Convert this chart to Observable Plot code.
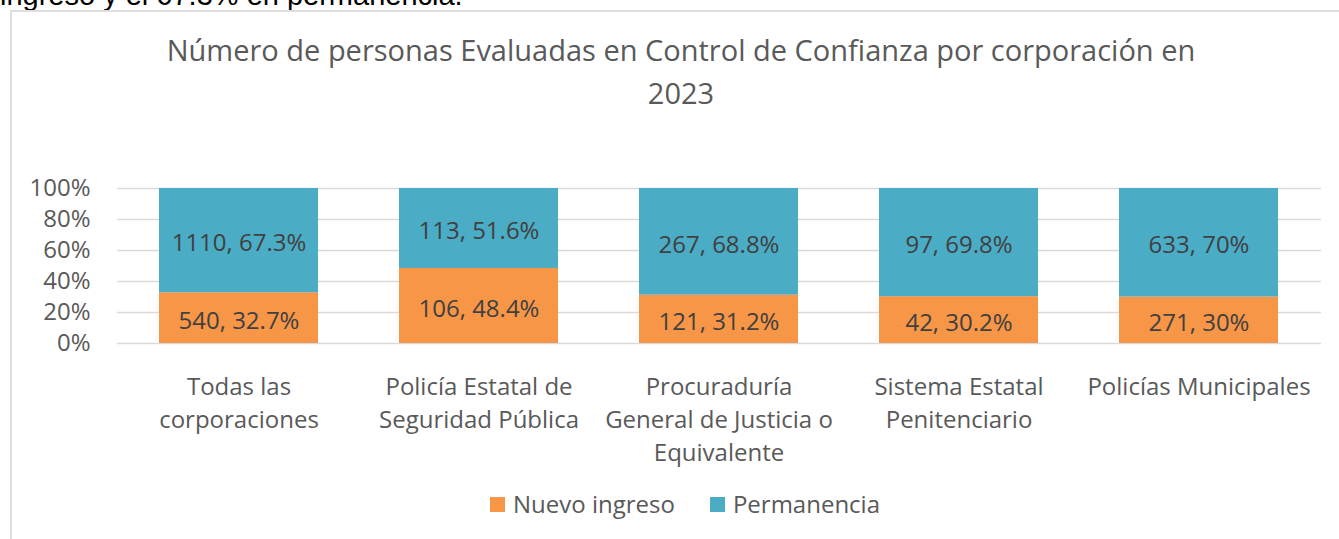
<!DOCTYPE html>
<html>
<head>
<meta charset="utf-8">
<script src="https://cdn.jsdelivr.net/npm/d3@7"></script>
<script src="https://cdn.jsdelivr.net/npm/@observablehq/plot@0.6"></script>
<style>
  html, body { margin: 0; padding: 0; background: #fff; width: 1339px; height: 539px; overflow: hidden; position: relative; }
  #lead { position: absolute; left: 0; top: -19.5px; font: 29px/29px "Liberation Sans", Arial, sans-serif; color: #000; white-space: nowrap; }
  #frame { position: absolute; left: 10px; top: 10px; width: 1400px; height: 600px; border: 2px solid #dedede; box-sizing: border-box; }
  #title { position: absolute; left: 11px; width: 1340px; top: 27.5px; text-align: center; font: 29px/43px "Open Sans", sans-serif; color: #595959; }
  #chart { position: absolute; left: 0; top: 0; }
  #legend { position: absolute; left: 0; width: 1370px; top: 492px; display: flex; justify-content: center; align-items: center; font: 24px/24px "Open Sans", sans-serif; color: #595959; }
  .item { display: flex; align-items: center; white-space: nowrap; }
  .item + .item { margin-left: 35px; }
  .sw { width: 15px; height: 15px; margin-right: 8px; }
</style>
</head>
<body>
<div id="lead">ingreso y el 67.3% en permanencia.</div>
<div id="frame"></div>
<div id="title">Número de personas Evaluadas en Control de Confianza por corporación en<br>2023</div>
<div id="chart"></div>
<div id="legend"></div>
<script>
// Data
const categories = [
  "Todas las\ncorporaciones",
  "Policía Estatal de\nSeguridad Pública",
  "Procuraduría\nGeneral de Justicia o\nEquivalente",
  "Sistema Estatal\nPenitenciario",
  "Policías Municipales"
];
const series = ["Nuevo ingreso", "Permanencia"];
const colors = ["#F79646", "#4BACC6"];
const nuevoIngreso = [540, 106, 121, 42, 271];
const permanencia = [1110, 113, 267, 97, 633];
const yTicks = [0, 0.2, 0.4, 0.6, 0.8, 1];

const values = [nuevoIngreso, permanencia];
const rows = [];
categories.forEach((c, i) => {
  const total = nuevoIngreso[i] + permanencia[i];
  series.forEach((s, j) => {
    rows.push({cat: c, series: s, value: values[j][i], share: values[j][i] / total});
  });
});
const pctFmt = d3.format(".1~f");

const chart = Plot.plot({
  width: 1339,
  height: 539,
  marginTop: 188,
  marginBottom: 196,
  marginLeft: 117,
  marginRight: 18,
  style: {fontFamily: "'Open Sans', sans-serif", fontSize: "24px", color: "#595959", background: "transparent", overflow: "visible"},
  x: {domain: categories, paddingInner: 0.3355, paddingOuter: 0.166, label: null},
  y: {domain: [0, 1], label: null},
  color: {domain: series, range: colors},
  marks: [
    Plot.gridY(yTicks, {stroke: "#d9d9d9", strokeOpacity: 1, strokeWidth: 1.5}),
    Plot.barY(rows, Plot.stackY({offset: "normalize", x: "cat", y: "value", fill: "series"})),
    Plot.text(rows, Plot.stackY({
      offset: "normalize", x: "cat", y: "value", z: "series",
      text: d => `${d.value}, ${pctFmt(d.share * 100)}%`,
      fill: "#404040", fontSize: 24, dy: 3
    })),
    Plot.axisY({ticks: yTicks, tickSize: 0, tickPadding: 27, tickFormat: d3.format(".0%"), fontSize: 24, fill: "#595959"}),
    Plot.axisX({tickSize: 0, tickPadding: 28, lineHeight: 1.375, fontSize: 24, fill: "#595959", label: null})
  ]
});
document.getElementById("chart").appendChild(chart);

const legend = document.getElementById("legend");
series.forEach((s, i) => {
  const item = document.createElement("div");
  item.className = "item";
  const sw = document.createElement("div");
  sw.className = "sw";
  sw.style.background = colors[i];
  const t = document.createElement("span");
  t.textContent = s;
  item.appendChild(sw);
  item.appendChild(t);
  legend.appendChild(item);
});
</script>
</body>
</html>
